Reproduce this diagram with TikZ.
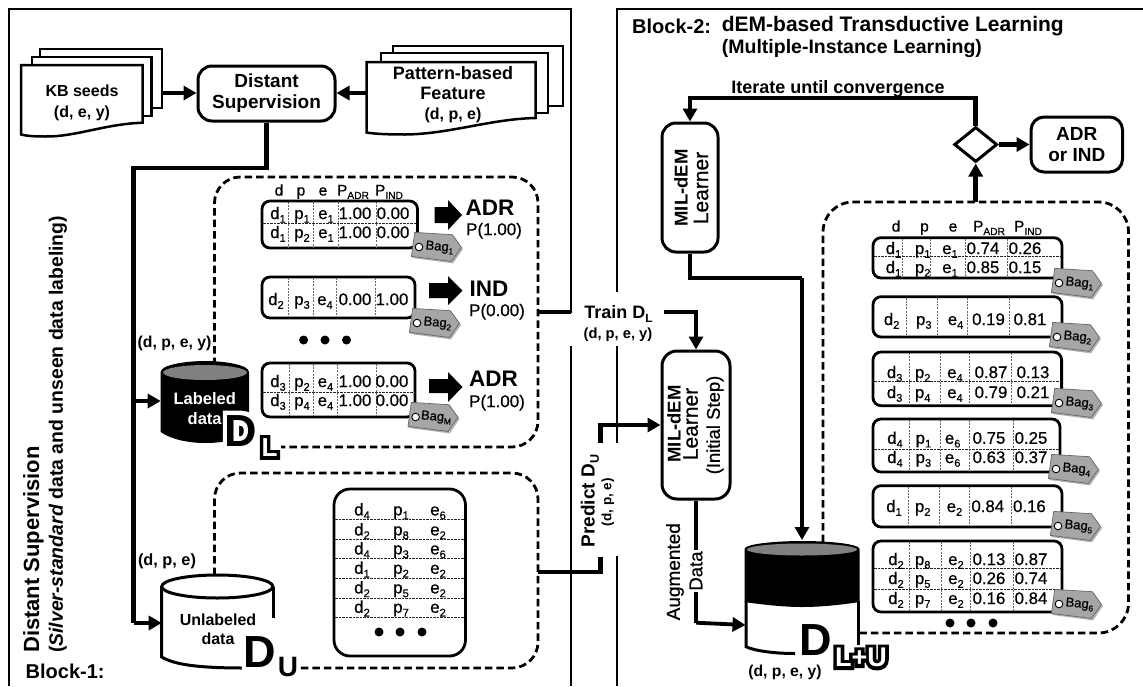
\documentclass[tikz,border=0pt]{standalone}
\usepackage{fontspec}
\setmainfont{Liberation Sans}
\newfontfamily\semifont[FakeBold=0.6]{Liberation Sans}
\newfontfamily\fatfont[UprightFont=* Bold,FakeBold=26]{Liberation Sans}
\newfontfamily\fatD[UprightFont=* Bold,FakeBold=22]{Liberation Sans}
\usetikzlibrary{arrows.meta,shapes.geometric}
\newcounter{nn}
\newcommand\fs[1]{\fontsize{#1}{#1}\selectfont}
\newcommand\sbx[1]{\raisebox{-.22em}{\scalebox{.66}{#1}}}
% text at centre x,y with size s: baseline fixed
\newcommand\tx[4]{\stepcounter{nn}\node[txt,font=\semifont\fs{#3}] (t\arabic{nn}) at (#1,{#2+0.36*#3}) {#4};}
\newcommand\bx[4]{\stepcounter{nn}\node[txt,font=\bfseries\fs{#3}] (t\arabic{nn}) at (#1,{#2+0.36*#3}) {#4};}
\newcommand\setcols[5]{\def\ca{#1}\def\cb{#2}\def\cc{#3}\def\cd{#4}\def\ce{#5}}
\newcommand\rowc[7][16.8]{\tx{\ca}{#2}{#1}{#3}\tx{\cb}{#2}{#1}{#4}\tx{\cc}{#2}{#1}{#5}\tx{\cd}{#2}{#1}{#6}\tx{\ce}{#2}{#1}{#7}}
\newcommand\tbl[5]{\draw[tbox] (#1,#3) rectangle (#2,#4);
 \foreach \vx in {#5} {\draw[vdash] (\vx,#3+1) -- (\vx,#4-1);}}
\newcommand\hd[3]{\draw[hdash] (#1,#3) -- (#2,#3);}
\newcommand\bagtag[3]{\stepcounter{nn}\begin{scope}[shift={(#1,#2)}]
 \fill[black,opacity=.3] (-3.3,-13) -- (35,-10.5) -- (44,2) -- (34,16.4) -- (-6.6,11) -- cycle;
 \draw[tagshape] (-4.3,-14.6) -- (33.4,-12.3) -- (42.4,0.4) -- (32.4,14.4) -- (-7.6,9.4) -- cycle;
 \draw[taghole] (0,0) circle (3.8pt);
 \node[inner sep=0pt,rotate=-5,font=\semifont\fs{13}] (t\arabic{nn}) at (20.5,0.5) {#3};
 \end{scope}}
\tikzset{
 txt/.style={inner sep=0pt,anchor=base},
 frame/.style={line width=2.8pt},
 tbox/.style={draw=black,fill=white,line width=2.8pt,rounded corners=8pt},
 vdash/.style={draw=black!60,line width=.5pt,dash pattern=on 2pt off 1.2pt},
 hdash/.style={draw=black!85,line width=.8pt,dash pattern=on 2.5pt off 1pt},
 rbox/.style={draw=black,fill=white,line width=3pt,rounded corners=14pt,inner sep=0pt,align=center},
 dashbox/.style={draw=black,line width=2.8pt,dash pattern=on 7.5pt off 4pt,rounded corners=26pt},
 conn/.style={draw=black,line width=4.5pt},
 arr/.style={conn,-{Triangle[length=13pt,width=14pt]}},
 doc/.style={draw=black,fill=white,line width=2.5pt},
 tagshape/.style={draw=black!60,fill=black!35,line width=.7pt,line join=round},
 taghole/.style={draw=black,fill=white,line width=.9pt},
 rot/.style={inner sep=0pt,rotate=90,anchor=center},
}
\begin{document}
\begin{tikzpicture}[x=1pt,y=-1pt,line join=miter]
\useasboundingbox (0,0) rectangle (1143,686);
\fill[white] (0,0) rectangle (1143,686);

% block frames
\draw[frame] (9,686) -- (9,9) -- (571,9) -- (571,313);
\draw[frame] (571,345.5) -- (571,686);
\draw[frame] (617,292) -- (617,9) -- (1143,9);
\draw[frame] (617,345.5) -- (617,443);
\draw[frame] (617,556) -- (617,686);

% dashed groups
\draw[dashbox] (214.5,365) -- (214.5,177) -- (538,177) -- (538,447) -- (281,447);
\draw[dashbox] (214.5,575) -- (214.5,473) -- (538,473) -- (538,668) -- (300,668);
\draw[dashbox,rounded corners=30pt] (823,542) -- (823,202) -- (1128.5,202) -- (1128.5,633) -- (859,633);

% documents
\draw[doc] (40,49) rectangle (162,108);
\draw[doc] (32,57) rectangle (151.6,116);
\draw[doc] (21,65) -- (142.5,65) -- (142.5,122.7) .. controls (105,124) and (75,137) .. (45,136.5) .. controls (35,136.5) and (27,136) .. (21,134.5) -- cycle;
\draw[doc] (393,46) rectangle (563,106);
\draw[doc] (381,53) rectangle (548,113);
\draw[doc] (366.5,62) -- (535.6,62) -- (535.6,118) .. controls (490,119) and (450,134) .. (405,134.5) .. controls (390,134.5) and (375,134) .. (366.5,132.5) -- cycle;
\bx{82}{91}{16}{KB seeds}
\bx{82}{112}{16}{(d, e, y)}
\bx{453}{73}{18}{Pattern-based}
\bx{453}{93}{18}{Feature}
\bx{453}{114}{16}{(d, p, e)}

\node[rbox,minimum width=137pt,minimum height=55pt,font=\bfseries\fs{19},align=center] (ds) at (266.5,93.5) {Distant\\[2pt]Supervision};
\coordinate (kbr) at (162,93);
\coordinate (pr) at (366.5,93);
\draw[arr,line width=3.8pt] (kbr) -- (ds.west |- kbr);
\draw[arr,line width=3.8pt] (pr) -- (ds.east |- pr);

% labeled cylinder
\coordinate (cla) at (160.7,401);
\coordinate (clb) at (161.7,623);
\coordinate (trunk) at (133.5,168);
\draw[black,line width=4.5pt,line join=miter] (ds.south) -- (ds.south |- trunk) -- (trunk) -- (trunk |- clb);
\draw[arr] (trunk |- cla) -- (cla);
\draw[arr] (trunk |- clb) -- (clb);

\fill[black] (160.7,372) -- (160.7,432) .. controls (170,439) and (188,443) .. (205,443) .. controls (225,443) and (240,439) .. (249,432) -- (249,372) .. controls (249,365) and (225,361) .. (205,361) .. controls (185,361) and (160.7,365) .. (160.7,372) -- cycle;
\fill[black!50] (205,372.5) ellipse [x radius=42pt,y radius=7.5pt];
\node[inner sep=0pt,font=\bfseries\fs{16.5},text=white,align=center] (ld) at (204.7,408.5) {Labeled\\[3pt]data};

% unlabeled cylinder
\fill[white] (161.7,586.5) -- (161.7,657) .. controls (175,665) and (200,668) .. (245,668) -- (273,668) -- (273,586.5) -- cycle;
\draw[line width=3pt] (161.7,586.5) -- (161.7,657) .. controls (175,665) and (200,668) .. (245,668);
\draw[line width=3pt] (273,618) -- (273,586.5);
\draw[line width=3pt,fill=white] (217.3,586.5) ellipse [x radius=55.6pt,y radius=11.5pt];
\node[inner sep=0pt,font=\bfseries\fs{16},align=center] (ud) at (218,629.5) {Unlabeled\\[3pt]data};

% big D labels
\node[inner sep=0pt,text=white,font=\fatD\fs{45}] (dl1) at (241,431) {D};
\node[inner sep=0pt,font=\bfseries\fs{45}] (dl2) at (241,431) {D};
\node[inner sep=0pt,font=\fatfont\fs{26}] (dl3) at (269.5,447.5) {L};
\node[inner sep=0pt,text=white,font=\bfseries\fs{26}] (dl4) at (269.5,447.5) {L};
\node[inner sep=0pt,text=white,font=\fatD\fs{45}] (du1) at (260,652) {D};
\node[inner sep=0pt,font=\bfseries\fs{45}] (du2) at (260,652) {D};
\node[inner sep=0pt,font=\bfseries\fs{28}] (du3) at (288,667) {U};
\bx{174.5}{342}{15.8}{(d, p, e, y)}
\bx{167}{560}{16.3}{(d, p, e)}

% rotated labels
\node[rot,anchor=west,font=\bfseries\fs{22}] (bl1) at (33.5,653) {Distant Supervision};
\node[rot,anchor=west,font=\bfseries\fs{19.4}] (bl2) at (58,653) {(\textit{Silver-standard} data and unseen data labeling)};
\node[inner sep=0pt,anchor=west,font=\bfseries\fs{20}] (bl3) at (25.5,671) {Block-1:};

% left tables
\tx{279}{190}{15.5}{d}\tx{301}{190}{15.5}{p}\tx{323}{190}{15.5}{e}
\tx{353}{190}{15.5}{P\sbx{ADR}}\tx{389}{190}{15.5}{P\sbx{IND}}
\tbl{262}{417.5}{201}{248}{288,313,338,376}
\hd{263}{417}{223}
\setcols{278}{302}{326}{355}{393}
\rowc{213}{d\sbx1}{p\sbx1}{e\sbx1}{1.00}{0.00}
\rowc{232}{d\sbx1}{p\sbx2}{e\sbx1}{1.00}{0.00}
\bagtag{419}{247}{Bag\sbx1}
\tbl{262}{415}{277}{318}{288,313,336,375}
\setcols{276}{302}{325}{355}{392}
\rowc{299}{d\sbx2}{p\sbx3}{e\sbx4}{0.00}{1.00}
\bagtag{417}{323}{Bag\sbx2}
\fill[black] (303.6,340) circle (4.5pt) (325,340) circle (4.5pt) (346.5,340) circle (4.5pt);
\tbl{262}{415}{363}{417}{289,313.5,337.5,376}
\hd{263}{414}{392}
\setcols{278}{302}{325.5}{355}{392}
\rowc{381}{d\sbx3}{p\sbx2}{e\sbx4}{1.00}{0.00}
\rowc{400}{d\sbx3}{p\sbx4}{e\sbx4}{1.00}{0.00}
\bagtag{415.6}{417}{Bag\sbx{M}}

\fill[black] (434.5,207) -- (448,207) -- (448,200) -- (462,215) -- (448,230) -- (448,223) -- (434.5,223) -- cycle;
\fill[black] (429,283) -- (448,283) -- (448,276) -- (462.5,290.5) -- (448,305) -- (448,298) -- (429,298) -- cycle;
\fill[black] (429,379) -- (448,379) -- (448,372) -- (462.5,387) -- (448,402) -- (448,393) -- (429,393) -- cycle;
\bx{490}{207}{22.5}{ADR}\tx{494}{229}{17}{P(1.00)}
\bx{489}{288}{22.5}{IND}\tx{497}{310}{17}{P(0.00)}
\bx{493.5}{378}{22.5}{ADR}\tx{497}{401}{17}{P(1.00)}

% unlabeled table
\draw[tbox,rounded corners=16pt] (334,489) rectangle (465.5,656);
\foreach \hy in {519,539.3,558.7,578,598.3,617.7} {\draw[hdash] (335,\hy) -- (464.5,\hy);}
\def\ur#1#2#3#4{\tx{362}{#1}{17}{#2}\tx{401}{#1}{17}{#3}\tx{438}{#1}{17}{#4}}
\ur{509.3}{d\sbx4}{p\sbx1}{e\sbx6}
\ur{529.3}{d\sbx2}{p\sbx8}{e\sbx2}
\ur{548.3}{d\sbx4}{p\sbx3}{e\sbx6}
\ur{567.7}{d\sbx1}{p\sbx2}{e\sbx2}
\ur{587.3}{d\sbx2}{p\sbx5}{e\sbx2}
\ur{606.7}{d\sbx2}{p\sbx7}{e\sbx2}
\fill[black] (379,632) circle (4.5pt) (400,632) circle (4.5pt) (422,632) circle (4.5pt);

% centre connectors and labels
\coordinate (tl0) at (538,312);
\coordinate (tl1) at (571,312);
\coordinate (tl2) at (664,312);
\draw[conn,line width=3.8pt] (tl0) -- (tl1);
\bx{618.5}{312}{18}{Train D\sbx{L}}
\bx{618}{333}{14.7}{(d, p, e, y)}
\node[rot,font=\bfseries\fs{19}] (pd) at (590,501) {Predict D\sbx{U}};
\node[rot,font=\bfseries\fs{13.5}] (pdp) at (608,502) {(d, p, e)};

% MIL boxes
\node[rbox,minimum width=56pt,minimum height=129pt] (mil) at (690,187.5) {};
\node[rot,font=\bfseries\fs{18.5}] (mila) at (681,188) {MIL-dEM};
\node[rot,font=\semifont\fs{21}] (milb) at (701,188) {Learner};
\node[rbox,minimum width=68pt,minimum height=148pt,rounded corners=15pt] (mi) at (696,425) {};
\node[rot,font=\bfseries\fs{18.5}] (mia) at (674,424) {MIL-dEM};
\node[rot,font=\semifont\fs{21}] (mib) at (690.6,424) {Learner};
\node[rot,font=\semifont\fs{18.5}] (mic) at (715,425) {(Initial Step)};

\coordinate (pt) at (600.7,443);
\coordinate (pb) at (600.7,557);
\coordinate (pc) at (538,572);
\draw[conn,line join=miter] (pc) -- (pb |- pc) -- (pb);
\draw[arr] (pt) -- (pt |- mi.west) -- (mi.west);
\draw[arr] (tl2) -- (tl2 -| mi.north) -- (mi.north);

% diamond and output
\node[diamond,draw=black,fill=white,line width=3pt,inner sep=0pt,minimum width=43pt,minimum height=35pt] (dec) at (975.7,144.5) {};
\node[rbox,rounded corners=13pt,minimum width=91.5pt,minimum height=55pt,font=\bfseries\fs{19}] (out) at (1076.8,144.5) {ADR\\[2pt]or IND};
\draw[arr] (dec.east) -- (out.west);
\coordinate (d3top) at (975.7,202);
\draw[arr] (d3top) -- (dec.south);
\coordinate (loop) at (975.7,98);
\draw[arr] (dec.north) -- (loop) -- (loop -| mil.north) -- (mil.north);
\bx{838}{87}{18}{Iterate until convergence}

% header
\node[inner sep=0pt,anchor=west,font=\bfseries\fs{20}] (bh1) at (632,26) {Block-2:};
\node[inner sep=0pt,anchor=west,font=\bfseries\fs{21}] (bh2) at (721.7,26) {dEM-based Transductive Learning};
\node[inner sep=0pt,anchor=west,font=\bfseries\fs{19.5}] (bh3) at (721.7,48) {(Multiple-Instance Learning)};

% big cylinder
\coordinate (mc) at (802,278);
\fill[white] (746,549) rectangle (858,646) (746,646) .. controls (760,652) and (780,653.5) .. (795,653.5) -- (858,653.5) -- (858,646) -- cycle;
\draw[line width=3pt] (746,601) -- (746,646.7) .. controls (755,651) and (775,653.5) .. (795,653.5);
\draw[line width=3pt] (858,601) -- (858,645);
\fill[black] (744.5,549) -- (744.5,602) .. controls (765,605) and (785,607) .. (802,607) .. controls (820,607) and (840,605) .. (859.5,602) -- (859.5,549) .. controls (859.5,544) and (830,541) .. (802,541) .. controls (775,541) and (744.5,544) .. (744.5,549) -- cycle;
\fill[black!50] (802,549.5) ellipse [x radius=55pt,y radius=6pt];
\draw[conn] (mil.south) -- (mil.south |- mc) -- (mc);
\draw[arr,line width=3.8pt] (mc) -- (802,540);

% augmented connector
\coordinate (auga) at (745.5,625);
\draw[conn] (mi.south) -- (696,622.7);
\draw[arr,line width=3.8pt] (696,622.7) -- (auga);
\node[rot,font=\semifont\fs{19}] (aug) at (675,571.7) {Augmented};
\node[rot,fill=white,font=\semifont\fs{18.5},inner xsep=1pt,inner ysep=1pt] (dat) at (696,571) {Data};

\node[inner sep=0pt,text=white,font=\fatD\fs{45}] (dlu1) at (816,640) {D};
\node[inner sep=0pt,font=\bfseries\fs{45}] (dlu2) at (816,640) {D};
\node[inner sep=0pt,font=\fatfont\fs{27}] (dlu3) at (861,657.5) {L+U};
\node[inner sep=0pt,text=white,font=\bfseries\fs{27}] (dlu4) at (861,657.5) {L+U};
\bx{785}{671}{15.7}{(d, p, e, y)}

% right tables
\tx{896}{226}{15.5}{d}\tx{924.5}{226}{15.5}{p}\tx{953}{226}{15.5}{e}
\tx{989}{226}{15.5}{P\sbx{ADR}}\tx{1028}{226}{15.5}{P\sbx{IND}}
\tbl{873}{1062}{237.7}{278}{902,930,965.5,1007.5}
\hd{874}{1061}{256}
\setcols{893.5}{922.7}{950}{983}{1025}
\rowc{248}{d\sbx1}{p\sbx1}{e\sbx1}{0.74}{0.26}
\rowc{267}{d\sbx1}{p\sbx2}{e\sbx1}{0.85}{0.15}
\bagtag{1059}{283}{Bag\sbx1}
\tbl{873}{1062}{296.7}{337}{906,937,967,1009}
\setcols{891.6}{923.8}{955.6}{988.5}{1030}
\rowc{319}{d\sbx2}{p\sbx3}{e\sbx4}{0.19}{0.81}
\bagtag{1057}{337}{Bag\sbx2}
\tbl{873}{1061.6}{352}{405.7}{909,940,969.5,1011.5}
\hd{874}{1060.6}{381.7}
\setcols{894.6}{922.7}{955}{991}{1033}
\rowc{372}{d\sbx3}{p\sbx2}{e\sbx4}{0.87}{0.13}
\rowc{392}{d\sbx3}{p\sbx4}{e\sbx4}{0.79}{0.21}
\bagtag{1059}{403}{Bag\sbx3}
\tbl{873}{1060}{419}{472}{909,940,969.5,1013}
\hd{874}{1059}{449}
\setcols{895}{923.4}{952.7}{989}{1031}
\rowc{437.7}{d\sbx4}{p\sbx1}{e\sbx6}{0.75}{0.25}
\rowc{457}{d\sbx4}{p\sbx3}{e\sbx6}{0.63}{0.37}
\bagtag{1056}{469}{Bag\sbx4}
\tbl{873}{1062}{485.7}{527}{908,939,969,1011}
\setcols{894}{922.7}{954.5}{987.8}{1029.4}
\rowc{506}{d\sbx1}{p\sbx2}{e\sbx2}{0.84}{0.16}
\bagtag{1058}{526}{Bag\sbx5}
\tbl{873}{1062}{541}{612}{909,941,970,1013}
\hd{874}{1061}{568.3}\hd{874}{1061}{589}
\setcols{896}{922.7}{956}{989}{1031}
\rowc{559}{d\sbx2}{p\sbx8}{e\sbx2}{0.13}{0.87}
\rowc{578}{d\sbx2}{p\sbx5}{e\sbx2}{0.26}{0.74}
\rowc{598}{d\sbx2}{p\sbx7}{e\sbx2}{0.16}{0.84}
\bagtag{1059}{604}{Bag\sbx6}
\fill[black] (950,623) circle (4.5pt) (971,623) circle (4.5pt) (993,623) circle (4.5pt);
\end{tikzpicture}
\end{document}
